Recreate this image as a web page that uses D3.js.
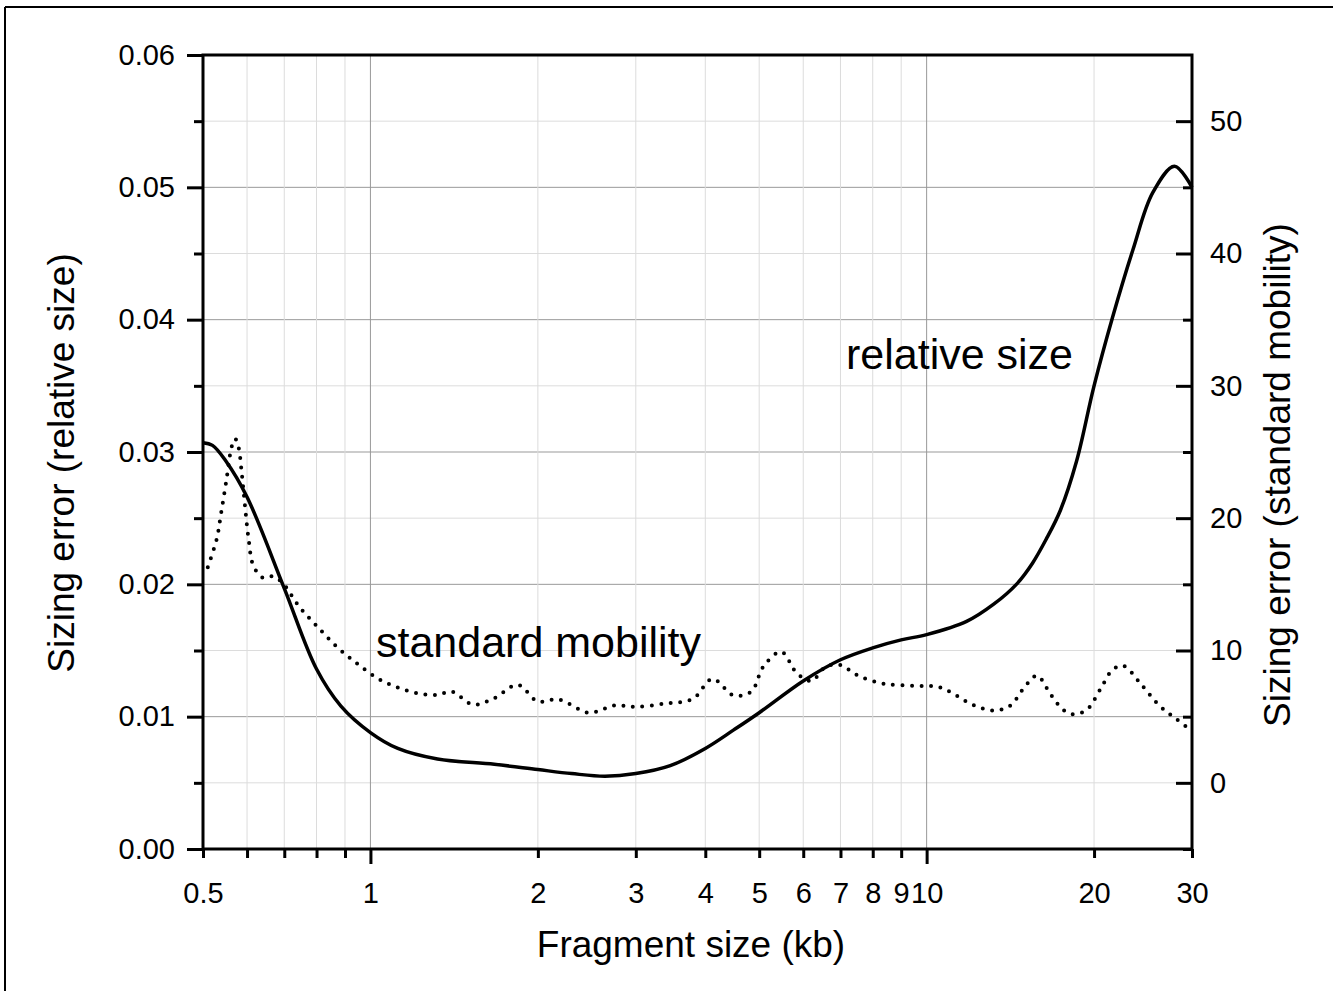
<!DOCTYPE html>
<html lang="en">
<head>
    <meta charset="UTF-8">
    <title>Sizing error vs fragment size</title>
    <script src="https://d3js.org/d3.v7.min.js"></script>
    <style>
        body { margin: 0; background: white; }
        svg { display: block; }
        text { font-family: "Liberation Sans", Arial, Helvetica, sans-serif; fill: black; }
        .tick text { font-size: 29px; font-family: "Liberation Sans", Arial, Helvetica, sans-serif; }
        .grid-minor { stroke: #dcdcdc; stroke-width: 1px; }
        .grid-major { stroke: #999; stroke-width: 1px; }
        .axis line { stroke: black; stroke-width: 3px; }
        .axis path { display: none; }
    </style>
</head>
<body>
    <svg width="1333" height="991"></svg>

    <script>
        // relative size curve (left axis)
        const relSizes  = [0.5, 0.52, 0.55, 0.6, 0.7, 0.8, 0.885, 1.0, 1.12, 1.32, 1.67, 2.0, 2.3, 2.64, 3.0, 3.46, 4.0, 4.5, 5.0, 6.0, 7.0, 8.0, 9.0, 10.0, 11.8, 13.2, 14.5, 15.5, 16.4, 17.4, 18.6, 20.0, 21.6, 23.5, 25.5, 27.9, 30];
        const relErrors = [0.0307, 0.0305, 0.0293, 0.0266, 0.0197, 0.0136, 0.0108, 0.0088, 0.0076, 0.0068, 0.0064, 0.0060, 0.0057, 0.0055, 0.0057, 0.0063, 0.0076, 0.0090, 0.0103, 0.0127, 0.0143, 0.0152, 0.0158, 0.0162, 0.0172, 0.0185, 0.0200, 0.0216, 0.0234, 0.0256, 0.0293, 0.0350, 0.0402, 0.0453, 0.0496, 0.0516, 0.0500];

        // standard mobility curve (right axis)
        const mobSizes  = [0.51, 0.529, 0.539, 0.551, 0.563, 0.571, 0.579, 0.587, 0.595, 0.604, 0.616, 0.641, 0.668, 0.695, 0.745, 0.803, 0.869, 0.944, 1.03, 1.12, 1.22, 1.32, 1.40, 1.53, 1.67, 1.84, 2.0, 2.18, 2.47, 2.75, 3.0, 3.4, 3.8, 4.12, 4.5, 4.84, 5.09, 5.48, 5.84, 6.2, 6.6, 7.0, 7.48, 8.35, 9.6, 10.4, 11.0, 12.1, 13.2, 14.1, 15.1, 15.8, 16.7, 17.6, 18.3, 19.4, 20.5, 21.6, 22.6, 24.2, 26.3, 28.0, 30.0];
        const mobErrors = [16.3, 18.4, 20.4, 22.9, 25.4, 26.0, 25.4, 23.4, 20.9, 18.4, 16.4, 15.5, 15.6, 15.1, 13.3, 11.8, 10.3, 9.05, 7.9, 7.2, 6.76, 6.65, 6.9, 5.9, 6.4, 7.4, 6.15, 6.3, 5.3, 5.85, 5.75, 6.0, 6.35, 7.85, 6.6, 6.9, 8.8, 9.9, 8.3, 7.7, 8.8, 8.9, 8.16, 7.5, 7.33, 7.28, 6.9, 5.9, 5.47, 5.8, 7.4, 8.1, 6.7, 5.52, 5.19, 5.52, 7.03, 8.54, 8.84, 7.54, 5.77, 4.89, 3.9];

        const xTicks      = [0.5, 0.6, 0.7, 0.8, 0.9, 1, 2, 3, 4, 5, 6, 7, 8, 9, 10, 20, 30];
        const xLabeled    = [0.5, 1, 2, 3, 4, 5, 6, 7, 8, 9, 10, 20, 30];
        const leftMajor   = [0, 0.01, 0.02, 0.03, 0.04, 0.05, 0.06];
        const leftMinor   = [0.005, 0.015, 0.025, 0.035, 0.045, 0.055];
        const rightMajor  = [0, 10, 20, 30, 40, 50];
        const rightMinor  = [-5, 5, 15, 25, 35, 45];

        const svg = d3.select("svg");
        const L = 203, R = 1192, T = 55, B = 849;

        const x = d3.scaleLog().domain([0.5, 30]).range([L, R]);
        const yL = d3.scaleLinear().domain([0, 0.06]).range([B, T]);
        const yR = d3.scaleLinear().domain([-5, 55]).range([B, T]);

        // outer border (top and left visible)
        svg.append("line").attr("x1", 5).attr("y1", 7).attr("x2", 1333).attr("y2", 7)
            .attr("stroke", "black").attr("stroke-width", 2);
        svg.append("line").attr("x1", 5).attr("y1", 7).attr("x2", 5).attr("y2", 991)
            .attr("stroke", "black").attr("stroke-width", 2);

        // grid
        const grid = svg.append("g");
        leftMinor.concat(leftMajor.slice(1, -1)).forEach(v => {
            grid.append("line")
                .attr("class", leftMajor.includes(v) ? "grid-major" : "grid-minor")
                .attr("x1", L).attr("x2", R).attr("y1", yL(v)).attr("y2", yL(v));
        });
        xTicks.slice(1, -1).forEach(v => {
            grid.append("line")
                .attr("class", (v === 1 || v === 10) ? "grid-major" : "grid-minor")
                .attr("x1", x(v)).attr("x2", x(v)).attr("y1", T).attr("y2", B);
        });

        // left axis
        svg.append("g").attr("class", "axis").attr("transform", `translate(${L},0)`)
            .call(d3.axisLeft(yL).tickValues(leftMajor).tickSize(16).tickPadding(12)
                .tickFormat(d3.format(".2f")));
        svg.append("g").attr("class", "axis").attr("transform", `translate(${L},0)`)
            .call(d3.axisLeft(yL).tickValues(leftMinor).tickSize(9).tickFormat(""));

        // right axis (ticks inward)
        svg.append("g").attr("class", "axis").attr("transform", `translate(${R},0)`)
            .call(d3.axisRight(yR).tickValues(rightMajor).tickSize(-16).tickPadding(18));
        svg.append("g").attr("class", "axis").attr("transform", `translate(${R},0)`)
            .call(d3.axisRight(yR).tickValues(rightMinor).tickSize(-9).tickFormat(""));

        // bottom axis
        const xAxis = svg.append("g").attr("class", "axis").attr("transform", `translate(0,${B})`)
            .call(d3.axisBottom(x).tickValues(xTicks).tickSize(9).tickPadding(24)
                .tickFormat(d => xLabeled.includes(d) ? String(d) : ""));
        xAxis.selectAll(".tick").filter(d => d === 1 || d === 10)
            .select("line").attr("y2", 15);

        // frame
        svg.append("rect").attr("x", L).attr("y", T).attr("width", R - L).attr("height", B - T)
            .attr("fill", "none").attr("stroke", "black").attr("stroke-width", 3);

        // curves
        const relData = relSizes.map((s, i) => [s, relErrors[i]]);
        const mobData = mobSizes.map((s, i) => [s, mobErrors[i]]);

        svg.append("path").datum(mobData)
            .attr("fill", "none").attr("stroke", "black").attr("stroke-width", 4)
            .attr("stroke-linecap", "round").attr("stroke-dasharray", "0 9.5")
            .attr("d", d3.line().x(d => x(d[0])).y(d => yR(d[1])).curve(d3.curveCatmullRom.alpha(0.5)));

        svg.append("path").datum(relData)
            .attr("fill", "none").attr("stroke", "black").attr("stroke-width", 3.5)
            .attr("d", d3.line().x(d => x(d[0])).y(d => yL(d[1])).curve(d3.curveCatmullRom.alpha(0.5)));

        // annotations
        svg.append("text").attr("x", 376).attr("y", 657).style("font-size", "43px")
            .text("standard mobility");
        svg.append("text").attr("x", 846).attr("y", 369).style("font-size", "43px")
            .text("relative size");

        // axis titles
        svg.append("text").attr("x", 691).attr("y", 957).attr("text-anchor", "middle")
            .style("font-size", "37px").text("Fragment size (kb)");
        svg.append("text").attr("transform", "translate(74,463) rotate(-90)")
            .attr("text-anchor", "middle").style("font-size", "37px")
            .text("Sizing error (relative size)");
        svg.append("text").attr("transform", "translate(1290,475) rotate(-90)")
            .attr("text-anchor", "middle").style("font-size", "37px")
            .text("Sizing error (standard mobility)");
    </script>
</body>
</html>
